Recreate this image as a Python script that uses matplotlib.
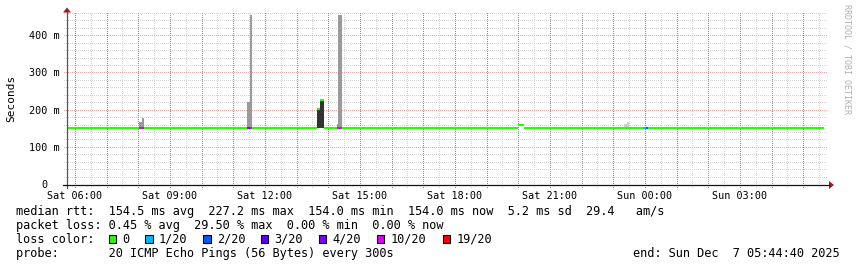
import matplotlib
matplotlib.use("Agg")
import numpy as np
from matplotlib import pyplot as plt
from matplotlib.patches import Rectangle, Polygon

plt.rcParams['font.family'] = ['DejaVu Sans Mono', 'DejaVu Sans']

# ---- data (time in hours since Sat 00:00, values in ms) ----
# median rtt segments, coloured by loss level
seg_start = [5.75, 8.02, 8.18, 11.43, 11.515, 11.59, 13.64, 13.735, 13.86,
             14.27, 14.42, 19.99, 20.18, 23.94, 24.03, 24.09]
seg_end = [8.02, 8.18, 11.43, 11.515, 11.59, 13.64, 13.735, 13.86, 14.27,
           14.42, 19.99, 20.18, 23.94, 24.03, 24.09, 29.65]
seg_median = [154.5, 154.5, 154.5, 154.5, 154.5, 154.5, 205.0, 228.0, 154.5,
              154.5, 154.5, 161.0, 154.5, 154.5, 154.5, 154.5]
seg_loss = [0, 5, 0, 4, 5, 0, 0, 0, 0, 5, 0, 0, 0, 1, 2, 0]

# smoke (spread of the pings)
smoke_start = [8.02, 8.11, 11.43, 11.53, 13.64, 13.735, 14.27, 14.32, 23.33, 23.43]
smoke_end = [8.11, 8.18, 11.53, 11.59, 13.735, 13.86, 14.32, 14.42, 23.43, 23.49]
smoke_lo = [154.0, 154.0, 154.0, 154.0, 153.0, 153.0, 154.0, 154.0, 154.0, 154.0]
smoke_hi = [170.0, 179.0, 222.0, 458.0, 206.0, 230.0, 165.0, 458.0, 165.0, 170.0]
smoke_density = ['mid', 'mid', 'mid', 'mid', 'dark', 'dark', 'mid', 'mid', 'light', 'light']

loss_labels = ['0', '1/20', '2/20', '3/20', '4/20', '10/20', '19/20']
loss_colors = ['#26ff00', '#00b8ff', '#0059ff', '#5e00ff', '#7e00ff', '#dd00ff', '#ff0000']

x_tick_hours = [6, 9, 12, 15, 18, 21, 24, 27]
x_tick_labels = ['Sat 06:00', 'Sat 09:00', 'Sat 12:00', 'Sat 15:00',
                 'Sat 18:00', 'Sat 21:00', 'Sun 00:00', 'Sun 03:00']
y_ticks = [0, 100, 200, 300, 400]
y_tick_labels = ['0', '100 m', '200 m', '300 m', '400 m']

stats_rtt = "median rtt:  154.5 ms avg  227.2 ms max  154.0 ms min  154.0 ms now  5.2 ms sd  29.4   am/s"
stats_loss = "packet loss: 0.45 % avg  29.50 % max  0.00 % min  0.00 % now"
probe_text = "probe:       20 ICMP Echo Pings (56 Bytes) every 300s"
end_text = "end: Sun Dec  7 05:44:40 2025"

shade = {'light': '#cfcfcf', 'mid': '#9a9a9a', 'dark': '#333333'}

# ---- layout ----
W, H = 857, 267
fig = plt.figure(figsize=(W / 100, H / 100), dpi=100)
ax = fig.add_axes([67 / W, (H - 185) / H, 761 / W, 172 / H])
px_per_h = 31.67
px_per_ms = 0.3717
xmin = 5.75
xmax = xmin + 761 / px_per_h
ymax = 172 / px_per_ms
ax.set_xlim(xmin, xmax)
ax.set_ylim(0, ymax)
for s in ax.spines.values():
    s.set_visible(False)
ax.set_facecolor('white')

# grid drawn as single-pixel dots every 2 px
ext_y = 3 / px_per_ms
ext_x = 3 / px_per_h
half_hours = np.arange(6.0, xmax, 0.5)
minor_v = [h for h in half_hours if h % 1 != 0]
major_v = [h for h in half_hours if h % 1 == 0]
ys = np.arange(20, ymax, 20)
minor_h = [y for y in ys if y % 100 != 0]
major_h = [y for y in ys if y % 100 == 0]
dot_x = np.arange(xmin - ext_x, xmax, 2 / px_per_h)
dot_y = np.arange(-ext_y, ymax, 2 / px_per_ms)


def dotted_grid(vx, hy, color):
    px = [np.full(len(dot_y), v) for v in vx] + [dot_x for _ in hy]
    py = [dot_y for _ in vx] + [np.full(len(dot_x), h) for h in hy]
    if not px:
        return
    ax.plot(np.concatenate(px), np.concatenate(py), ',', color=color,
            clip_on=False, zorder=1)


dotted_grid(minor_v, minor_h, '#d4d4d4')
dotted_grid([], major_h, '#eaa2a2')
dotted_grid(major_v, [], '#da7070')

# smoke
for s0, s1, lo, hi, d in zip(smoke_start, smoke_end, smoke_lo, smoke_hi, smoke_density):
    ax.bar(s0, hi - lo, width=s1 - s0, bottom=lo, align='edge',
           color=shade[d], linewidth=0, zorder=2)

# median
ax.hlines(seg_median, seg_start, seg_end,
          colors=[loss_colors[i] for i in seg_loss], lw=1.5, zorder=3, capstyle='butt')

# ticks
ax.set_xticks(x_tick_hours, x_tick_labels)
ax.tick_params(axis='x', length=0, pad=4.2, labelsize=7.3)
ax.set_yticks([])
for v, lab in zip(y_ticks, y_tick_labels):
    off = -7.5 if lab.endswith('m') else -19.5
    ax.annotate(lab, xy=(0, v), xycoords=('axes fraction', 'data'),
                xytext=(off, 0), textcoords='offset pixels',
                ha='right', va='center', fontsize=7.3)

# overlay in pixel coordinates for axis arrows and legend
ov = fig.add_axes([0, 0, 1, 1])
ov.set_xlim(0, W)
ov.set_ylim(H, 0)
ov.axis('off')
ov.patch.set_alpha(0)
ov.plot([67, 67], [188, 12], color='#555555', lw=0.9)
ov.plot([63, 829], [185, 185], color='#111111', lw=0.9)
arrow_c = '#9b1c1c'
ov.add_patch(Polygon([[67, 7.5], [63, 12.5], [71, 12.5]], closed=True, color=arrow_c, lw=0))
ov.add_patch(Polygon([[834, 185], [829, 181], [829, 189]], closed=True, color=arrow_c, lw=0))

ov.text(11, 98, 'Seconds', rotation=90, ha='center', va='center', fontsize=8)
ov.text(847, 4, 'RRDTOOL / TOBI OETIKER', rotation=270, ha='center', va='top',
        fontsize=6, color='#b0b0b0')

fs = 8.6
ov.text(16, 211.5, stats_rtt, va='center', fontsize=fs)
ov.text(16, 225.3, stats_loss, va='center', fontsize=fs)
ov.text(16, 239.3, 'loss color:', va='center', fontsize=fs)
ov.text(16, 253.3, probe_text, va='center', fontsize=fs)
ov.text(840, 253.3, end_text, va='center', ha='right', fontsize=fs)

square_x = [108.7, 145.3, 203.3, 261.0, 319.0, 376.7, 442.7]
for sx, lab, c in zip(square_x, loss_labels, loss_colors):
    ov.add_patch(Rectangle((sx, 235.3), 7.5, 7.8, facecolor=c, edgecolor='black', lw=0.8))
    ov.text(sx + 13.5, 239.3, lab, va='center', fontsize=fs)

fig.savefig('out.png', dpi=100)
